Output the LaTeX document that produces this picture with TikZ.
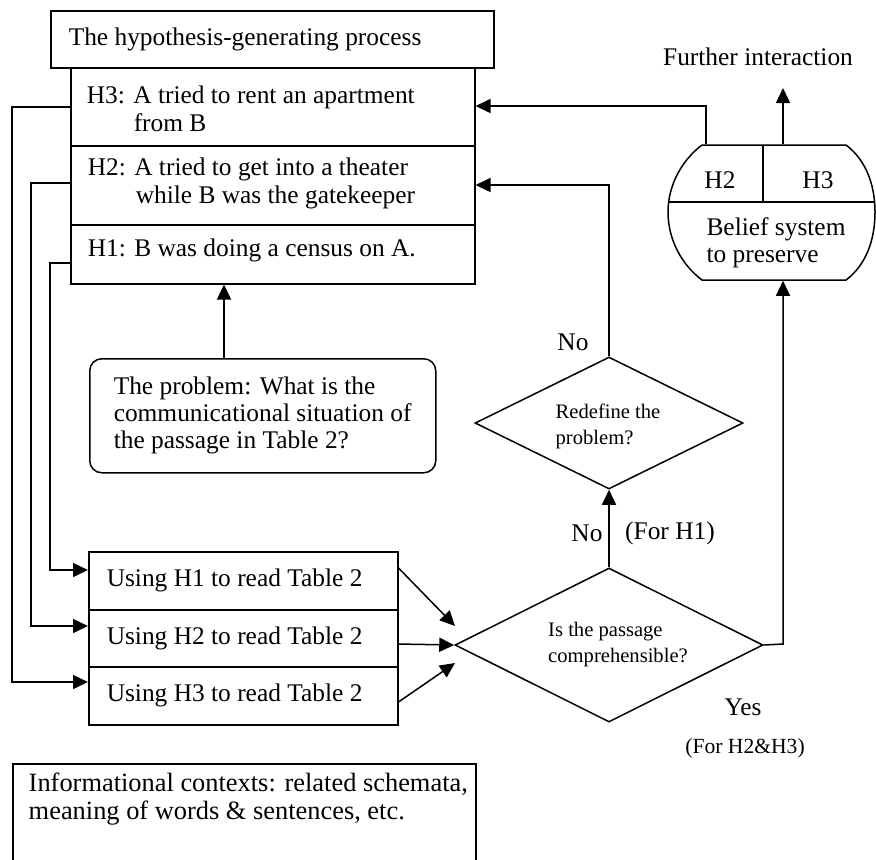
\documentclass[tikz,border=0pt]{standalone}
\usepackage{fontspec}
\setmainfont{Liberation Serif}
\usetikzlibrary{arrows.meta,shapes.geometric}

\begin{document}
\begin{tikzpicture}[x=0.5pt,y=-0.5pt,line width=0.75pt,
  arr/.style={-{Triangle[length=7.5pt,width=7pt]}},
  box/.style={draw,rectangle,inner sep=0pt,anchor=north west},
  txt/.style={inner sep=0pt,anchor=west,align=left,font=\fontsize{12.7}{14}\selectfont},
  lbl/.style={inner sep=0pt,font=\fontsize{12.7}{14}\selectfont},
  small/.style={inner sep=0pt,align=left,font=\fontsize{10.3}{13}\selectfont},
  dia/.style={draw,diamond,inner sep=0pt}]
\useasboundingbox (0,0) rectangle (876,859);

% hypothesis stack
\node[box,minimum width=221.5pt,minimum height=28.5pt] (title) at (50,10) {};
\node[box,minimum width=202pt,minimum height=39pt] (h3) at (70,67) {};
\node[box,minimum width=202pt,minimum height=39.5pt] (h2) at (70,145) {};
\node[box,minimum width=202pt,minimum height=29.5pt] (h1) at (70,224) {};
\node[txt] (titletext) at (68,39) {The hypothesis-generating process};
\node[txt] (h3text) at (86,109) {H3: A tried to rent an apartment\\\hspace*{23.5pt}from B};
\node[txt] (h2text) at (87,183) {H2: A tried to get into a theater\\\hspace*{24pt}while B was the gatekeeper};
\node[txt] (h1text) at (87,250) {H1: B was doing a census on A.};

% problem statement
\node[box,rounded corners=6pt,minimum width=173pt,minimum height=57pt] (problem) at (89,358) {};
\node[txt,font=\fontsize{12.7}{13.5}\selectfont] (probtext) at (113,415)
  {The problem: What is the\\communicational situation of\\the passage in Table 2?};

% reading boxes
\node[box,minimum width=154.5pt,minimum height=29pt] (use1) at (88,551) {};
\node[box,minimum width=154.5pt,minimum height=28.5pt] (use2) at (88,609) {};
\node[box,minimum width=154.5pt,minimum height=29pt] (use3) at (88,666) {};
\node[txt] (u1text) at (106,580) {Using H1 to read Table 2};
\node[txt] (u2text) at (106,638) {Using H2 to read Table 2};
\node[txt] (u3text) at (106,695) {Using H3 to read Table 2};

% decisions
\node[dia,minimum width=154pt,minimum height=77pt] (comp) at (609,645) {};
\node[small] (comptext) at (618,645) {Is the passage\\comprehensible?};
\node[dia,minimum width=134pt,minimum height=66pt] (redef) at (609,423) {};
\node[small] (redeftext) at (608,426) {Redefine the\\problem?};

% belief system
\node[inner sep=0pt,minimum width=103.5pt,minimum height=67.5pt] (belief) at (771.5,212.5) {};
\draw (702,145) -- (846,145)
  .. controls (866,160) and (875,185) .. (875,212)
  .. controls (875,240) and (866,265) .. (846,280)
  -- (702,280)
  .. controls (682,265) and (668,240) .. (668,212)
  .. controls (668,185) and (682,160) .. (702,145) -- cycle;
\draw (668,202) -- (875,202);
\draw (763,145) -- (763,202);
\node[lbl] (bh2) at (720,180) {H2};
\node[lbl] (bh3) at (818,180) {H3};
\node[lbl,align=left,font=\fontsize{12.7}{13.5}\selectfont] (btext) at (776,243) {Belief system\\to preserve};
\node[lbl] (further) at (758,57) {Further interaction};
\coordinate (up) at (783,88);

% informational contexts
\node[box,minimum width=231.5pt,minimum height=65pt] (context) at (12,763) {};
\node[txt,font=\fontsize{13.2}{14}\selectfont] (ctext) at (28,799)
  {Informational contexts: related schemata,\\meaning of words \& sentences, etc.};

% labels
\node[lbl] (no1) at (573,342) {No};
\node[lbl] (no2) at (587,533) {No};
\node[lbl] (forh1) at (670,533) {(For H1)};
\node[lbl] (yes) at (743,707) {Yes};
\node[lbl,font=\fontsize{10.8}{13}\selectfont] (forh23) at (745,748) {(For H2\&H3)};

% connectors
\draw[arr] (problem.north -| 224,0) -- (h1.south -| 224,0);
\draw[arr] (h1.west |- 0,263) -- (50,263) -- (50,570) -- (use1.west |- 0,570);
\draw[arr] (h2.west |- 0,183) -- (31,183) -- (31,626) -- (use2.west |- 0,626);
\draw[arr] (h3.west |- 0,107) -- (12,107) -- (12,682) -- (use3.west |- 0,682);
\draw[arr] (use1.east |- 0,568) -- (455,626);
\draw[arr] (use2.east |- 0,644) -- (comp.west);
\draw[arr] (use3.east |- 0,702) -- (455,663);
\draw[arr] (comp.north) -- (redef.south);
\draw[arr] (redef.north) -- (609,185) -- (h2.east |- 0,185);
\draw[arr] (comp.east) -- (783,644) -- (belief.south -| 783,0);
\draw[arr] (belief.north -| 706,0) -- (706,106) -- (h3.east |- 0,106);
\draw[arr] (belief.north -| 783,0) -- (up);
\end{tikzpicture}
\end{document}
